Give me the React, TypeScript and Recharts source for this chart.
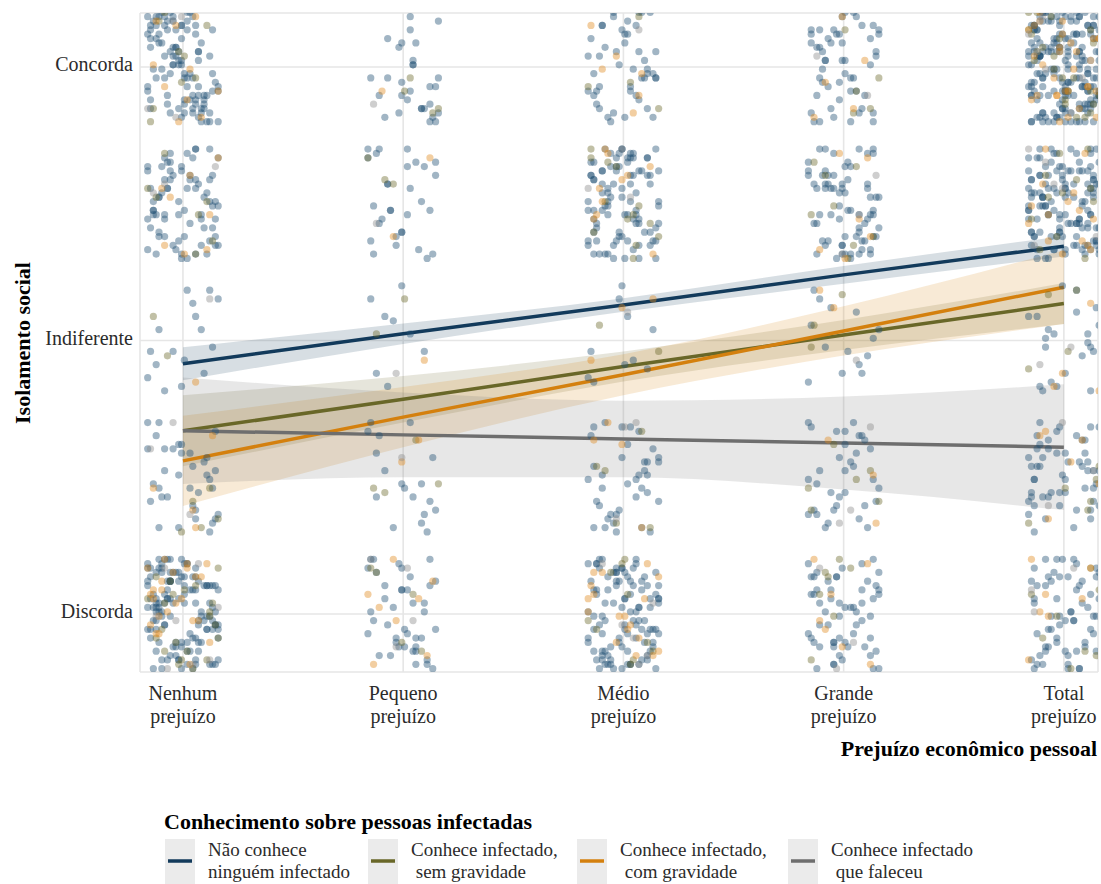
import { ComposedChart, Scatter, Line, Area, XAxis, YAxis, CartesianGrid } from "recharts";

const FONTE = "'Liberation Serif', 'Times New Roman', serif";

// eixo x: categorias de prejuízo (1..5), eixo y: nível de concordância (1..5)
const categorias = [
  ["Nenhum", "prejuízo"],
  ["Pequeno", "prejuízo"],
  ["Médio", "prejuízo"],
  ["Grande", "prejuízo"],
  ["Total", "prejuízo"],
];
const niveisRotulos: Record<number, string> = { 1: "Discorda", 3: "Indiferente", 5: "Concorda" };
const ticksX = [1, 2, 3, 4, 5];
const ticksY = [1, 3, 5];

// retas ajustadas (lm) lidas em cada categoria, e meia largura do intervalo
const mediaNaoConhece = [2.83, 3.05, 3.26, 3.48, 3.69];
const icNaoConhece = [0.12, 0.075, 0.05, 0.065, 0.075];
const mediaSemGravidade = [2.34, 2.57, 2.81, 3.04, 3.27];
const icSemGravidade = [0.26, 0.17, 0.11, 0.11, 0.15];
const mediaComGravidade = [2.12, 2.44, 2.75, 3.07, 3.39];
const icComGravidade = [0.33, 0.22, 0.15, 0.18, 0.27];
const mediaFaleceu = [2.34, 2.31, 2.28, 2.25, 2.22];
const icFaleceu = [0.39, 0.31, 0.28, 0.34, 0.46];

// pontos com jitter: cada par de letras = (dx, dy) dentro da caixa do jitter
// [categoria][nivel 1..5]
const jitterNaoConhece = [
  [
    "qhxbmzatkfwpdjrvlcoesgiunyvmgzrcaoxlutbqiwjfkdpeynhskwdnrbfyzjaxoghqsuimlcvtepezslmvhqcowbaunrfxidytkgjpntgpcaykvjzhrxobmfdwseluiqbjulxodqfwenzsmaykhcgrvtpirsfawmzcgkoybhnpxtvjdelqiuzkwtmgdprhbvxjcleoayfnqsiufcoyhuqabxtmjwnvskegdlrpiztnhzexqvfmajyblwcrgkdopsiutg",
    "yoclvngtebxksjqpdwazmuhirfxcfipkmsbhvrgoydlnwajtezuqluzeekatwmyxrdqglbps",
    "dhoyqvrsmcjkzwaetpgbnixlufwybkep",
    "pinfuhzdrqacjtlkwexmgsvboymapsgkxtrzuoledbyjhqiwcnfvjdqxwsiyeomvkcbhgflnptrzautkzmbqoaefydxhsrwnclgjvpiurbmuhqwzdkgxtjaveoynclisfpoqckzxhwmbyfegajtdnlrs",
    "hgwcnlrepzbfsqayjxkvudmtoifzqkxhaibvldeyncgwmotsrujpsbyjnemwahdtqcugxvkrlopfzicxvgtaozlndksiqymbwpufhejrzaeuicrwovplhxfmbtdygksqjnokbrfsdwilmnqggpaujybwkroxcmtdizlqeshvnfxlbdmwrfiqtczhvasojngykpuesgqdnkwa",
  ],
  [
    "gqwtidlyczmsuphkaxnfrevbjoaimxthedrbkglfwzosyuvcqpnjrhbnpvxaqekhyjmsdwbzclgtrfoiun",
    "nkdsvayfgoqiwhxrpzuejbmltcewtlaxdibz",
    "jrhcmzgsbwpodfuk",
    "uvpqfjoktnxbazsceiwlhrdymgywhrezkdcbovmgilaxozbeilcmrwytkfva",
    "lcyazkqnrspvegmjwiudhtxbofhktdmslrgbzcqnwepytdyiqowazxbkphmg",
  ],
  [
    "tjgeslmxoipbkwfcrnzqahuvdybuwqicfmhdrzxjpnaysovtglekmoeaxgqtyrlhdcnjsbkwpuvifzqlhvjwanztdsgpexfikucmobrydyrkpbcejawoxftsvdkxcslgprmfyatuhbzinqwjoenqagyjlusoibmxfdktwevczprhhsdrtcovmajpqxgbifywnkulezugcjzqfenw",
    "snmyhdbwcpkaeglfzqrixtuovjwajcfkvnpyolsxtbgzdhrmieuqkezhcbmrzrcyamgbvqfntkou",
    "xpvgbkaeqilwmznhoscd",
    "ivnaugrkpxwtyzsjdhoecbflmqclqxmzwgjaiodebtfrkvpnyhsugzbtfpqylvhnmowrcjadsixekufuowdisavxnkqtcglyhpebmzjrrpyeqchkzmaliyrlsdcwzngbqjokvxfuaehmptbwhqvtjdanzucsgmoxlfpyrikewdkxcslgprmfyatuhbzi",
    "ahykfwqmjcnsvldeuoxbtzgrpioxrgmvbtszfwapeiclnujydhkqlnvdwzepsqhbuknbcgxlyqphiatkrwsfedvmjzouyk",
  ],
  [
    "ekrnqoxzjgdsaibvmcufwhtylpzsjbhucrmxgnkvefdwpoiqaytlwmqiyeofldngjbxazrcvhktpytepzacgbhwdjfnoisrklmvuxqdajgkvlhzwbrts",
    "cfugsdtwamyhzknxlrpqeovbijhcuvnobydewtrsjflixmkgazqpgbnuqzdlkxnjswae",
    "vjadzpokshewmfbqrtglxniucytf",
    "mdwbxkiqfegrvynpauljshzotcpahtjygzlmekwcnbxfvrdqosuixyolcrskdiawgupvmbjqnftezhikftsbvqezowgdplmrlpyfkauesgjtwohrxzdbmqnvcirfwkmdatyoszhepbvjxlgq",
    "nlgoisevzujbtdphfmcaryqkxwbsqzrhxcpajvnomyektwuglfidyqeazvbcluhtpkmsgodrfjwnhixanzdgljwtbvypfqkuerscmobu",
  ],
  [
    "jwpnimkzcayxgeufhvrsobqldtsaxmodijkhtpbuzwcqlvnegfryedyvhjcxlmpnwroaqzfbiukgstuglkzqkqdbsawjgzovymnlhfcpxituremzgtbcqlvoyedi",
    "hixodwfrukcgnmaetvsqzybpljvozgnsylhtqbarijxkeucmwfdpcmkxrfahepusnjlgzowydtvqbiwdlyrwfigdkscamnxhoqbjuvtpezhv",
    "aszqfbhpvmwlecgnrtjoidyuxknfwbtjmzglrykcdsvo",
    "qdubncwkamfosjegxtpzlhyrvikfyhrdgviwnqzbjcalmsxeoptuzcmtxsnqpiyewkgrbdhajlfovuljetzwgmkuvhxpryaqbsdcnoifbpsijyrfnkwcezvdxotmlgauhqxqnrlvhtouemcfwybgdakpizsjwvydlgjqbshkaxcpmfzroietunqofmwznbudxsvlgakyjcthepriswtcinajqryelkdxbgzhmvfopuexvprigmcfbohkyztnwqdjalsuvr",
    "mhjaorytkbsqfzvwngpcxedluigbzvsdxknaruwejhimlqtofcpyudsntifqmzykhaxwcvlrojepbgravhlwjcepuobnxyzgsmktdfiqyfcwkqzgujlrsevmtdnohxpabiepntzhaqsybgcwojxirulkdvmfixgrmueszqbakyndvcohtpwfjlonlbfxvwaidtjmepquksrzygchsqwdiyebvhgzcrfkanxtomlupjkbotcjnylxwvrpzhsaqgmdfiuekmrxdbvlzotujsnhyqegwifcapelxwfaniuzsktrymcvhqogbjdpcqvejtirnhfkmdglwuxabsopzymjbwqsrkeydovlnchgfzuapxtigzoqlecwnhsydvba",
  ],
];
const jitterSemGravidade = [
  ["fjwmaqrtdhlbzxvcgpnsoeykiumcxpgezhqawndvkgjr", "tbwkqhzdma", "hjcs", "vnrbxeskgyaqdo", "lqcdvwgzbanprkmjex"],
  ["qrbxmgdwte", "ckrvzlgj", "nwdo", "gsaxjr", "xczdpknh"],
  ["vgdjnzqcxealoriwpbmy", "dptxkcwbgo", "eqzk", "bxsmhwojzfqagnrdkvqkwicgbz", "pjsyaizd"],
  ["gwpxerbchvlzjm", "juzhrmakbfwo", "mxcqbl", "xfbkrvgtcwoajmqd", "rhqcnvzkwd"],
  ["uebrpawxfhkmydzs", "acnkzpvfymwh", "okhxagry", "xnmpbjkfvzgtwqrseclyuaho", "zgltxsdqnemkwhiyfravcoubjpohrbwvqkdznfbuxewcjmaz"],
];
const jitterComGravidade = [
  ["kpaxcsfuhnbrgzjwemtvqloydiwgmqrvbkslcqoxeipbvyfs", "xwckqfrb", "rd", "iozxgdwkptvcnbfq", "rytbofzhcngidxlakwpm"],
  ["klvdarsqjzeocbxu", "svmq", "ui", "wxjf", "fh"],
  ["lmcrxdshbtzeuqkgfwanvyojpkcwaqzvrdnm", "hzmucvtb", "bixwmu", "otcjwvfngzhyxbeqdkms", "fmtlbwqcsgkp"],
  ["wbmfirvyczgjel", "ycxnhv", "eyju", "lynaecvxwfsj", "cbmyqdgjuo"],
  ["hmwxtqenacgrbz", "pqtvgxzlhdew", "zbjcwvmf", "gzteqpvdmbxjfrhkaiwcslonuybmhe", "cwjkexztrqfnlapsohdgybmuvixtkgqmcpwoezavbfnhlrsdyhlqztkgobvimx"],
];
const jitterFaleceu = [
  ["dmsyqbklhagxwczo", "pejzbt", "ww", "yvcpgr", "jxkbadmy"],
  ["bzoxkfql", "mr", "kf", "di", "ce"],
  ["vdxpsbmkfyqh", "rznykd", "ot", "aqmzpo", "sv"],
  ["exqgka", "lcpfwy", "ri", "skytmb", "vgdp"],
  ["cnqxbs", "xomzhg", "pleh", "mqjrgwyfazcd", "fytkgmaupcwodqex"],
];

const JIT_X = 0.16;
const JIT_Y = 0.4;

function pontos(jitter: string[][]) {
  const out: { x: number; y: number }[] = [];
  jitter.forEach((porNivel, c) => {
    porNivel.forEach((cod, n) => {
      for (let i = 0; i + 1 < cod.length; i += 2) {
        const dx = ((cod.charCodeAt(i) - 97) / 25 - 0.5) * 2 * JIT_X;
        const dy = ((cod.charCodeAt(i + 1) - 97) / 25 - 0.5) * 2 * JIT_Y;
        out.push({ x: c + 1 + dx, y: n + 1 + dy });
      }
    });
  });
  return out;
}

const grupos = [
  { chave: "nao", rotulo: ["Não conhece", "ninguém infectado"], cor: "#123a5b", corPonto: "#1f4e72", media: mediaNaoConhece, ic: icNaoConhece, jitter: jitterNaoConhece },
  { chave: "sem", rotulo: ["Conhece infectado,", " sem gravidade"], cor: "#696728", corPonto: "#6c6a2c", media: mediaSemGravidade, ic: icSemGravidade, jitter: jitterSemGravidade },
  { chave: "com", rotulo: ["Conhece infectado,", " com gravidade"], cor: "#d4800e", corPonto: "#e08a1e", media: mediaComGravidade, ic: icComGravidade, jitter: jitterComGravidade },
  { chave: "fal", rotulo: ["Conhece infectado", " que faleceu"], cor: "#6e6e6e", corPonto: "#8a8a8a", media: mediaFaleceu, ic: icFaleceu, jitter: jitterFaleceu },
];

const linhas = ticksX.map((x, i) => {
  const row: Record<string, any> = { x };
  grupos.forEach((g) => {
    row[g.chave] = g.media[i];
    row[g.chave + "Ic"] = [g.media[i] - g.ic[i], g.media[i] + g.ic[i]];
  });
  return row;
});

const TickX = ({ x, y, payload }: any) => {
  const [a, b] = categorias[payload.value - 1];
  return (
    <text x={x} y={y} textAnchor="middle" fontFamily={FONTE} fontSize={20} fill="#2b2b2b">
      <tspan x={x} dy={28}>{a}</tspan>
      <tspan x={x} dy={23}>{b}</tspan>
    </text>
  );
};

const TickY = ({ x, y, payload }: any) => (
  <text x={x} y={y + 4} textAnchor="end" fontFamily={FONTE} fontSize={20} fill="#2b2b2b">
    {niveisRotulos[payload.value]}
  </text>
);

const legendaX = [165, 368, 577, 788];

export default function App() {
  return (
    <div style={{ position: "fixed", left: 0, top: 0, width: 1101, height: 884, background: "#fff", overflow: "hidden" }}>
      <ComposedChart width={1101} height={884} data={linhas} margin={{ top: 13, right: 3, bottom: 0, left: 0 }}>
        <CartesianGrid stroke="#e6e6e6" strokeWidth={1.6} />
        <XAxis
          type="number"
          dataKey="x"
          domain={[0.805, 5.155]}
          ticks={ticksX}
          allowDataOverflow
          axisLine={false}
          tickLine={false}
          tickSize={0}
          tickMargin={0}
          height={212}
          tick={<TickX />}
        />
        <YAxis
          type="number"
          domain={[0.576, 5.395]}
          ticks={ticksY}
          allowDataOverflow
          axisLine={false}
          tickLine={false}
          tickSize={0}
          tickMargin={7}
          width={140}
          tick={<TickY />}
        />
        {grupos.map((g) => (
          <Scatter
            key={"p" + g.chave}
            data={pontos(g.jitter)}
            dataKey="y"
            isAnimationActive={false}
            shape={(p: any) => <circle cx={p.cx} cy={p.cy} r={3.6} fill={g.corPonto} fillOpacity={0.42} />}
          />
        ))}
        {grupos.map((g) => (
          <Area
            key={"a" + g.chave}
            type="monotone"
            dataKey={g.chave + "Ic"}
            stroke="none"
            fill={g.cor}
            fillOpacity={0.17}
            isAnimationActive={false}
          />
        ))}
        {grupos.map((g) => (
          <Line
            key={"l" + g.chave}
            type="linear"
            dataKey={g.chave}
            stroke={g.cor}
            strokeWidth={3.5}
            dot={false}
            isAnimationActive={false}
          />
        ))}
      </ComposedChart>
      <svg width={1101} height={884} style={{ position: "absolute", left: 0, top: 0, pointerEvents: "none" }}>
        <text transform="translate(30,343) rotate(-90)" textAnchor="middle" fontFamily={FONTE} fontSize={22} fontWeight="bold" fill="#000">
          Isolamento social
        </text>
        <text x={1097} y={756} textAnchor="end" fontFamily={FONTE} fontSize={22} fontWeight="bold" fill="#000">
          Prejuízo econômico pessoal
        </text>
        <text x={164} y={829} fontFamily={FONTE} fontSize={22} fontWeight="bold" fill="#000">
          Conhecimento sobre pessoas infectadas
        </text>
        {grupos.map((g, i) => {
          const x0 = legendaX[i];
          return (
            <g key={g.chave}>
              <rect x={x0} y={839} width={30} height={45} fill="#ebebeb" />
              <line x1={x0 + 3} x2={x0 + 27} y1={861} y2={861} stroke={g.cor} strokeWidth={3.5} />
              <text x={x0 + 43} y={856} fontFamily={FONTE} fontSize={19} fill="#2b2b2b" style={{ whiteSpace: "pre" }}>
                {g.rotulo[0]}
              </text>
              <text x={x0 + 43} y={878} fontFamily={FONTE} fontSize={19} fill="#2b2b2b" style={{ whiteSpace: "pre" }}>
                {g.rotulo[1]}
              </text>
            </g>
          );
        })}
      </svg>
    </div>
  );
}
